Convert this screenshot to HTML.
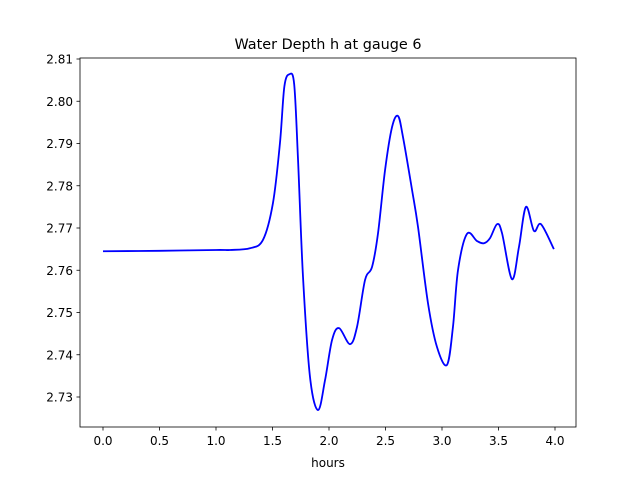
<!DOCTYPE html>
<html><head><meta charset="utf-8"><style>
body{margin:0;background:#fff}
svg text{font-family:"DejaVu Sans","Liberation Sans",sans-serif;font-size:12px;fill:#000}
</style></head><body>
<svg id="chart" width="640" height="480" xmlns="http://www.w3.org/2000/svg">
<rect width="640" height="480" fill="#fff"/>
<text x="328" y="49" text-anchor="middle" style="font-size:14.4px">Water Depth h at gauge 6</text>
<g id="ticks"></g>
<path id="line" fill="none" stroke="#0000ff" stroke-width="1.8" stroke-linejoin="round"/>
<rect x="80" y="58" width="496" height="369" fill="none" stroke="#000" stroke-width="0.8"/>
<text x="328" y="467" text-anchor="middle">hours</text>
</svg>
<script>
const times=[0,0.5,1.0,1.124,1.30,1.416,1.504,1.566,1.605,1.650,1.692,1.726,1.770,1.832,1.903,1.965,2.027,2.089,2.186,2.248,2.319,2.381,2.434,2.496,2.558,2.611,2.655,2.735,2.788,2.876,2.956,3.044,3.097,3.142,3.221,3.310,3.372,3.425,3.487,3.531,3.619,3.681,3.743,3.814,3.876,3.99];
const depths=[2.7645,2.7646,2.7648,2.7648,2.7652,2.7672,2.7759,2.7901,2.8035,2.8064,2.8040,2.7861,2.7584,2.7347,2.7269,2.7340,2.7435,2.7463,2.7425,2.7466,2.7577,2.7608,2.7688,2.7837,2.7939,2.7965,2.7915,2.7790,2.7702,2.7522,2.7418,2.7376,2.7466,2.7601,2.7686,2.7669,2.7664,2.7676,2.7709,2.7688,2.7579,2.7655,2.7750,2.7693,2.7709,2.7650];
const xTicks=[0,0.5,1.0,1.5,2.0,2.5,3.0,3.5,4.0];
const yTicks=[2.73,2.74,2.75,2.76,2.77,2.78,2.79,2.80,2.81];
const X=t=>103+t*113;
const Y=v=>59+(2.81-v)*4225;
const NS="http://www.w3.org/2000/svg";
const g=document.getElementById('ticks');
xTicks.forEach(t=>{
  const l=document.createElementNS(NS,'line');
  
  
  l.setAttribute('x1',X(t));l.setAttribute('x2',X(t));l.setAttribute('y1',427);l.setAttribute('y2',430.5);l.setAttribute('stroke','#000');l.setAttribute('stroke-width','0.8');
  g.appendChild(l);
  const tx=document.createElementNS(NS,'text');
  
  
  tx.setAttribute('x',X(t));tx.setAttribute('y',445);tx.setAttribute('text-anchor','middle');
  tx.textContent=t.toFixed(1);g.appendChild(tx);
});
yTicks.forEach(v=>{
  const l=document.createElementNS(NS,'line');
  
  
  l.setAttribute('x1',76.5);l.setAttribute('x2',80);l.setAttribute('y1',Y(v));l.setAttribute('y2',Y(v));l.setAttribute('stroke','#000');l.setAttribute('stroke-width','0.8');
  g.appendChild(l);
  const tx=document.createElementNS(NS,'text');
  
  
  tx.setAttribute('x',73);tx.setAttribute('y',Y(v)+4.5);tx.setAttribute('text-anchor','end');
  tx.textContent=v.toFixed(2);g.appendChild(tx);
});
const P=times.map((t,i)=>[X(t),Y(depths[i])]);
let d='M'+P[0][0]+','+P[0][1];
for(let i=0;i<P.length-1;i++){
  const p0=P[Math.max(0,i-1)],p1=P[i],p2=P[i+1],p3=P[Math.min(P.length-1,i+2)];
  const c1=[p1[0]+(p2[0]-p0[0])/6,p1[1]+(p2[1]-p0[1])/6];
  const c2=[p2[0]-(p3[0]-p1[0])/6,p2[1]-(p3[1]-p1[1])/6];
  d+=' C'+c1+' '+c2+' '+p2;
}
document.getElementById('line').setAttribute('d',d);
</script>
</body></html>
